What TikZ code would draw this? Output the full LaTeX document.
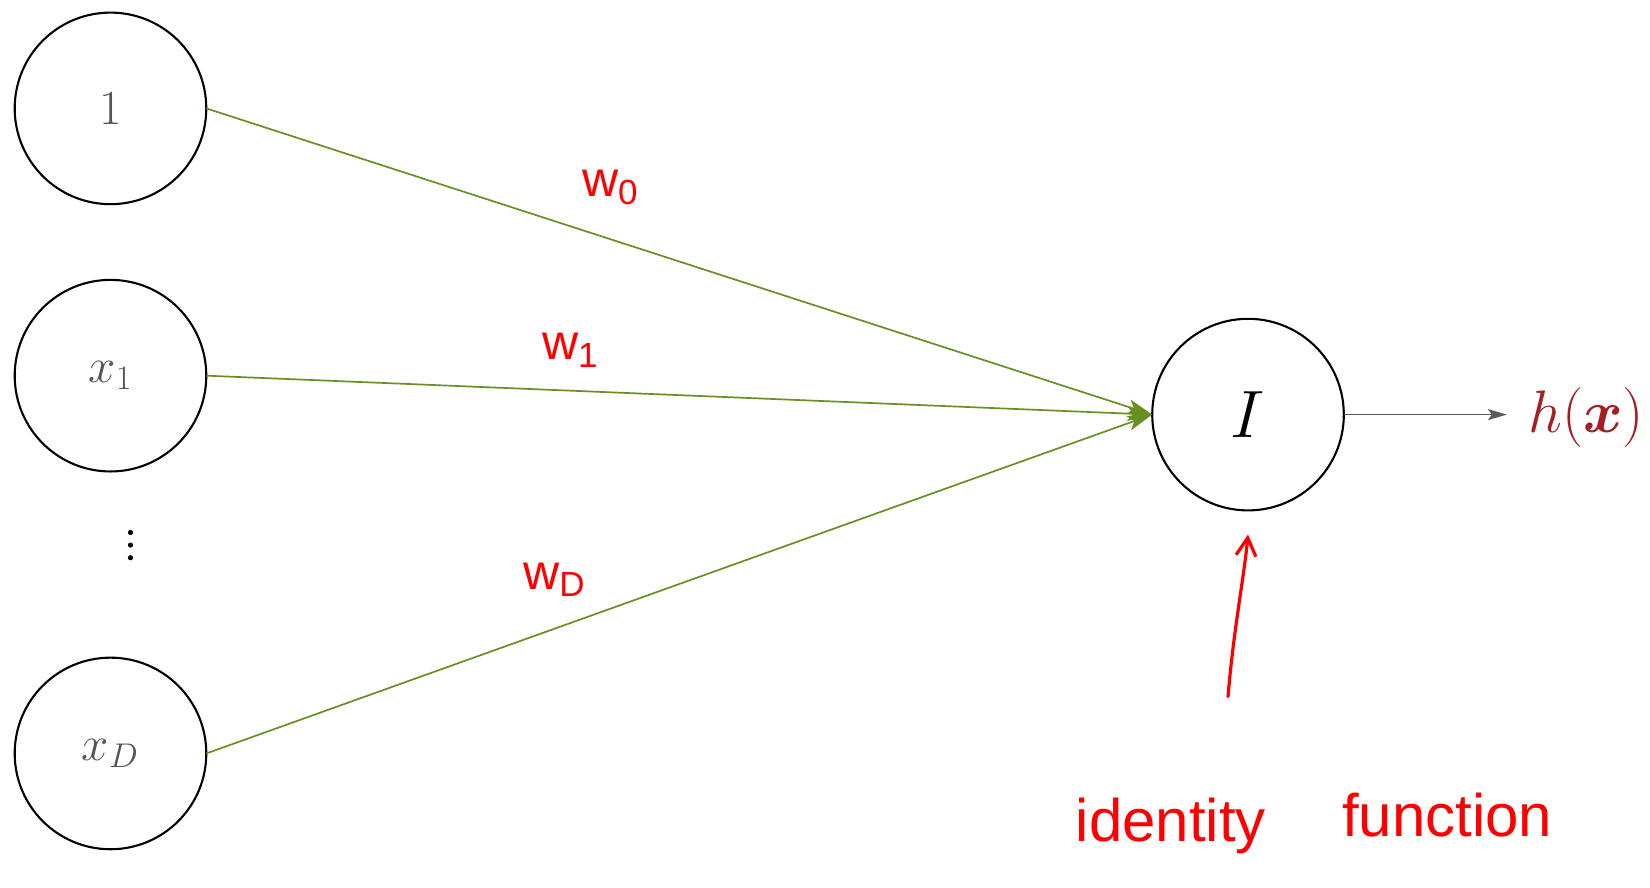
\documentclass[tikz,border=0pt]{standalone}
\usepackage{fix-cm}
\usepackage{amsmath,bm}
\usepackage{fontspec}
\newfontfamily\handfont{Liberation Sans}
\usetikzlibrary{arrows.meta}
\definecolor{edgegreen}{RGB}{107,142,35}
\definecolor{labgray}{RGB}{85,85,85}
\definecolor{outred}{RGB}{165,30,35}
\definecolor{arrgray}{RGB}{90,90,90}
\definecolor{handred}{RGB}{255,0,0}
\begin{document}
\begin{tikzpicture}[x=0.5262pt,y=-0.5262pt,
 neuron/.style={circle,draw=black,line width=1.05pt,minimum size=95.8pt,inner sep=0pt,outer sep=0pt},
 inlab/.style={text=labgray,font=\fontsize{24.5}{29}\selectfont},
 weight/.style={-{Stealth[length=12.5pt,width=7.5pt,inset=3pt]},draw=edgegreen,line width=0.85pt},
 outarrow/.style={-{Stealth[length=9.5pt,width=5.5pt,inset=2pt]},draw=arrgray,line width=0.85pt},
 hand/.style={text=handred,font=\handfont\fontsize{30}{34}\selectfont,inner sep=0pt},
 wlab/.style={text=handred,font=\handfont\fontsize{25}{29}\selectfont,inner sep=0pt},
 handarrow/.style={draw=handred,line width=1.6pt,line cap=round,line join=round},
 dot/.style={circle,fill=black,inner sep=0pt,minimum size=2.6pt}
]
\useasboundingbox (0,0) rectangle (1568,843);
\node[neuron,inlab] (in0) at (105,103) {$1$};
\node[neuron,inlab] (in1) at (105,357) {$x_1$};
\node[neuron,inlab] (inD) at (105,716) {$x_D$};
\node[dot] (dot1) at (124,506) {};
\node[dot] (dot2) at (124,518) {};
\node[dot] (dot3) at (124,530) {};
\node[neuron,font=\fontsize{33.5}{40}\selectfont] (I) at (1186,394) {$I$};
\node[text=outred,font=\fontsize{30}{36}\selectfont,anchor=west,inner sep=0pt] (hx) at (1452,397) {$h(\bm{x})$};
\coordinate (outend) at (1432,394);
\draw[weight] (in0.east) -- (I.west);
\draw[weight] (in1.east) -- (I.west);
\draw[weight] (inD.east) -- (I.west);
\draw[outarrow] (I.east) -- (outend);
\node[wlab] (w0) at (580,178) {w\textsubscript{0}};
\node[wlab] (w1) at (542,333) {w\textsubscript{1}};
\node[wlab] (wD) at (527,551) {w\textsubscript{D}};
\coordinate (idtail) at (1167,662);
\coordinate (idhead) at (1186,508);
\draw[handarrow,-{Straight Barb[length=9pt,width=10pt,line width=1.6pt]}] (idtail) .. controls (1172,600) and (1182,550) .. (idhead);
\node[hand,anchor=base west] (ident) at (1022,800) {identity};
\node[hand,anchor=base west] (func) at (1275,795) {function};
\end{tikzpicture}
\end{document}
